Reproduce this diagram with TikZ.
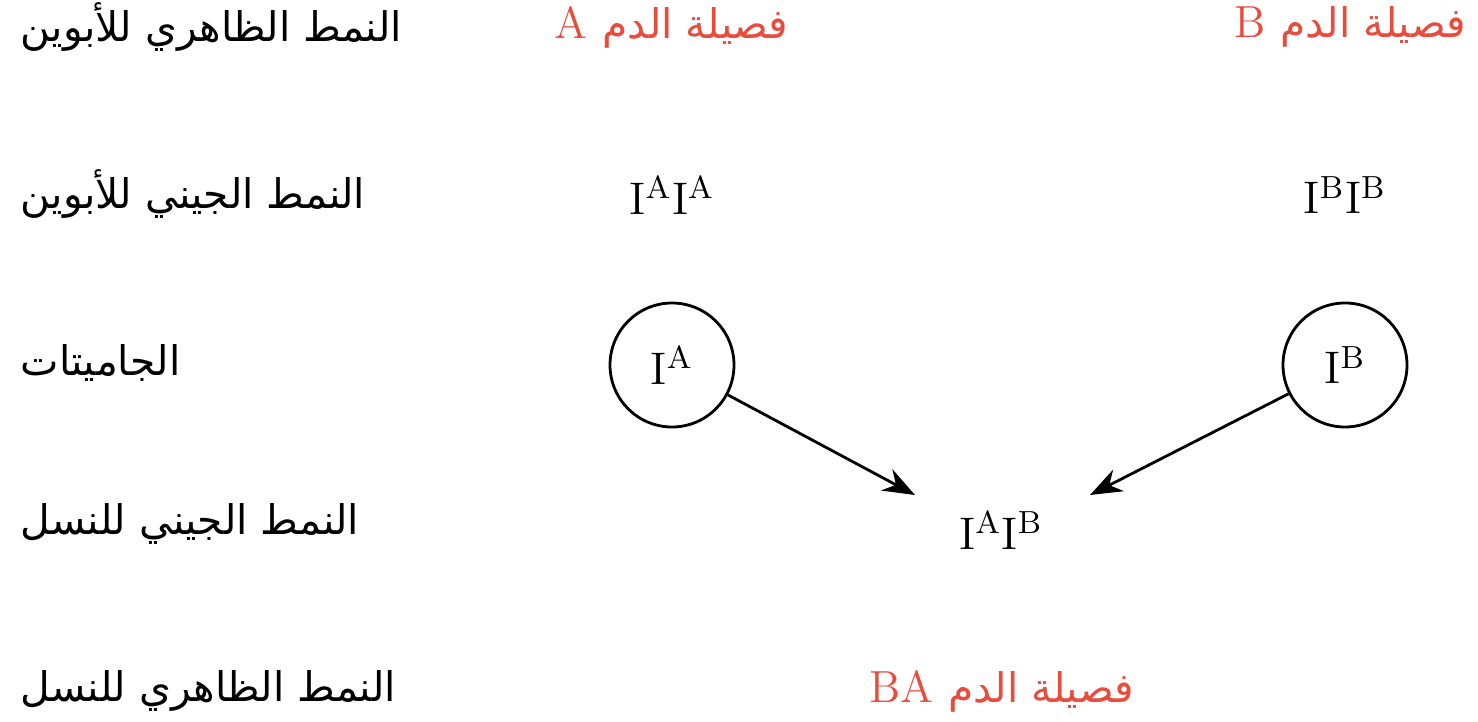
\documentclass[tikz,border=0pt]{standalone}
\usepackage{fontspec}
\usetikzlibrary{arrows.meta}
\newfontfamily\arabicfont[Script=Arabic]{DejaVu Sans}
\TeXXeTstate=1
\definecolor{bloodred}{RGB}{231,76,60}

\begin{document}
\begin{tikzpicture}[
    rowlabel/.style={anchor=west,inner sep=0pt,font=\fontsize{11.6}{14}\selectfont},
    phenotype/.style={text=bloodred,inner sep=0pt,font=\fontsize{12.8}{15}\selectfont},
    genotype/.style={inner sep=0pt,font=\fontsize{13}{15}\selectfont},
    gamete/.style={circle,draw,line width=0.8pt,minimum size=1.24cm,inner sep=0pt,font=\fontsize{13}{15}\selectfont},
    cross/.style={-{Stealth[length=3.2mm,width=2.4mm]},line width=0.8pt}]
\useasboundingbox (0,0) rectangle (14.78,7.21);
\newcommand{\fasila}{{\arabicfont\fontsize{11.6}{14}\selectfont فصيلة الدم}}
% row labels
\node[rowlabel] (lab1) at (0.2,6.94) {\arabicfont\beginR النمط الظاهري للأبوين\endR};
\node[rowlabel] (lab2) at (0.2,5.27) {\arabicfont\beginR النمط الجيني للأبوين\endR};
\node[rowlabel] (lab3) at (0.2,3.58) {\arabicfont\beginR الجاميتات\endR};
\node[rowlabel] (lab4) at (0.2,1.97) {\arabicfont\beginR النمط الجيني للنسل\endR};
\node[rowlabel] (lab5) at (0.2,0.30) {\arabicfont\beginR النمط الظاهري للنسل\endR};
% parents
\node[phenotype] (phenA) at (6.715,6.94) {\beginR\fasila\ A\endR};
\node[phenotype] (phenB) at (13.50,6.94) {\beginR\fasila\ B\endR};
\node[genotype] (genA) at (6.72,5.26) {$\mathrm{I^AI^A}$};
\node[genotype] (genB) at (13.45,5.26) {$\mathrm{I^BI^B}$};
% gametes
\node[gamete] (gamA) at (6.72,3.56) {$\mathrm{I^A}$};
\node[gamete] (gamB) at (13.45,3.56) {$\mathrm{I^B}$};
% offspring
\node[genotype] (off) at (10.01,1.91) {$\mathrm{I^AI^B}$};
\node[phenotype] (phenO) at (10.015,0.30) {\beginR\fasila\ \beginL BA\endL\endR};
\coordinate (tipA) at (9.15,2.26);
\coordinate (tipB) at (10.90,2.26);
\draw[cross] (gamA) -- (tipA);
\draw[cross] (gamB) -- (tipB);
\end{tikzpicture}
\end{document}
